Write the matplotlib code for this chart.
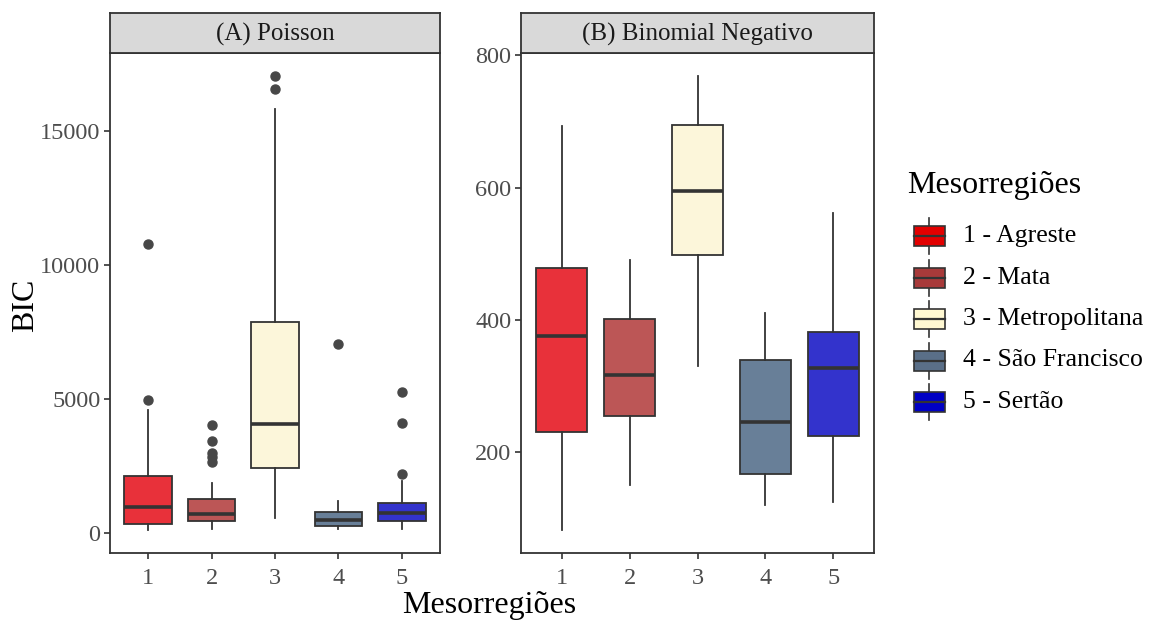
import matplotlib
matplotlib.use("Agg")
import matplotlib.pyplot as plt
from matplotlib.patches import Rectangle

plt.rcParams['font.family'] = ['Liberation Serif', 'DejaVu Serif']

W, H = 1151, 625

regions = ["1 - Agreste", "2 - Mata", "3 - Metropolitana", "4 - São Francisco", "5 - Sertão"]
xticks = ["1", "2", "3", "4", "5"]
box_colors = ["#E8313A", "#BC5656", "#FCF6DA", "#687F98", "#3333CC"]
key_colors = ["#E20000", "#A83A3A", "#FFF8D2", "#5A6F88", "#0000C4"]

# (A) Poisson
poi_lo = [112, 176, 587, 176, 176]
poi_q1 = [337, 461, 2423, 262, 461]
poi_med = [985, 712, 4082, 513, 760]
poi_q3 = [2135, 1262, 7876, 798, 1135]
poi_hi = [4607, 1884, 15841, 1210, 1959]
poi_out = [[4981, 10787], [4045, 3445, 2984, 2834, 2670], [17066, 16580], [7078], [5254, 4108, 2210]]

# (B) Binomial Negativo
nb_lo = [82, 150, 331, 120, 125]
nb_q1 = [230, 254, 498, 167, 225]
nb_med = [376, 316, 595, 245, 327]
nb_q3 = [479, 402, 694, 339, 381]
nb_hi = [693, 491, 769, 411, 561]
nb_out = [[], [], [], [], []]

edge = "#333333"


def px(l, t, r, b):
    return [l / W, 1 - b / H, (r - l) / W, (b - t) / H]


def panel(rect, strip_rect, title, lo, q1, med, q3, hi, out, yticks):
    ax = fig.add_axes(rect)
    stats = []
    for i in range(5):
        stats.append(dict(whislo=lo[i], q1=q1[i], med=med[i], q3=q3[i], whishi=hi[i], fliers=out[i]))
    bp = ax.bxp(stats, positions=range(1, 6), widths=0.75, patch_artist=True, showcaps=False,
                boxprops=dict(edgecolor=edge, linewidth=1.3),
                whiskerprops=dict(color=edge, linewidth=1.3),
                medianprops=dict(color=edge, linewidth=2.6, solid_capstyle='butt'),
                flierprops=dict(marker='o', markerfacecolor='#474747', markeredgecolor='#474747',
                                markersize=6.5))
    for patch, c in zip(bp['boxes'], box_colors):
        patch.set_facecolor(c)
    allv = lo + hi + [v for o in out for v in o]
    vmin, vmax = min(allv), max(allv)
    pad = (vmax - vmin) * 0.05
    ax.set_ylim(vmin - pad, vmax + pad)
    ax.set_xlim(0.4, 5.6)
    ax.set_xticks(range(1, 6))
    ax.set_xticklabels(xticks)
    ax.set_yticks(yticks)
    ax.set_yticklabels([str(v) for v in yticks])
    for s in ax.spines.values():
        s.set_color(edge)
        s.set_linewidth(1.3)
    ax.tick_params(colors=edge, labelcolor='#4D4D4D', labelsize=17.5, length=4, width=1.2)
    ax.tick_params(axis='x', pad=7)
    ax.tick_params(axis='y', pad=3)

    sax = fig.add_axes(strip_rect)
    sax.set_facecolor('#D9D9D9')
    sax.set_xticks([])
    sax.set_yticks([])
    for s in sax.spines.values():
        s.set_color(edge)
        s.set_linewidth(1.3)
    sax.text(0.5, 0.47, title, ha='center', va='center', fontsize=18, color='#1A1A1A',
             transform=sax.transAxes)
    return ax


fig = plt.figure(figsize=(W / 100, H / 100), dpi=100)

ax1 = panel(px(110, 53, 440, 553), px(110, 13, 440, 53), "(A) Poisson",
            poi_lo, poi_q1, poi_med, poi_q3, poi_hi, poi_out, [0, 5000, 10000, 15000])
ax2 = panel(px(521, 53, 874, 553), px(521, 13, 874, 53), "(B) Binomial Negativo",
            nb_lo, nb_q1, nb_med, nb_q3, nb_hi, nb_out, [200, 400, 600, 800])

fig.text(26 / W, 1 - 305 / H, "BIC", rotation=90, ha='center', va='center', fontsize=23)
fig.text(489 / W, 1 - 606 / H, "Mesorregiões", ha='center', va='center', fontsize=23)

# legend drawn in pixel coordinates
lax = fig.add_axes([0, 0, 1, 1])
lax.set_xlim(0, W)
lax.set_ylim(H, 0)
lax.axis('off')
lax.text(907, 186, "Mesorregiões", ha='left', va='center', fontsize=23)
for i, (name, c) in enumerate(zip(regions, key_colors)):
    yc = 236 + i * 41.5
    lax.plot([929, 929], [yc - 18, yc + 18], color=edge, lw=1.2)
    lax.add_patch(Rectangle((914, yc - 10), 31, 20, facecolor=c, edgecolor=edge, lw=1.2, zorder=3))
    lax.plot([914, 945], [yc, yc], color=edge, lw=1.6, zorder=4)
    lax.text(963, yc, name, ha='left', va='center', fontsize=18.5)

fig.savefig("out.png", dpi=100)
